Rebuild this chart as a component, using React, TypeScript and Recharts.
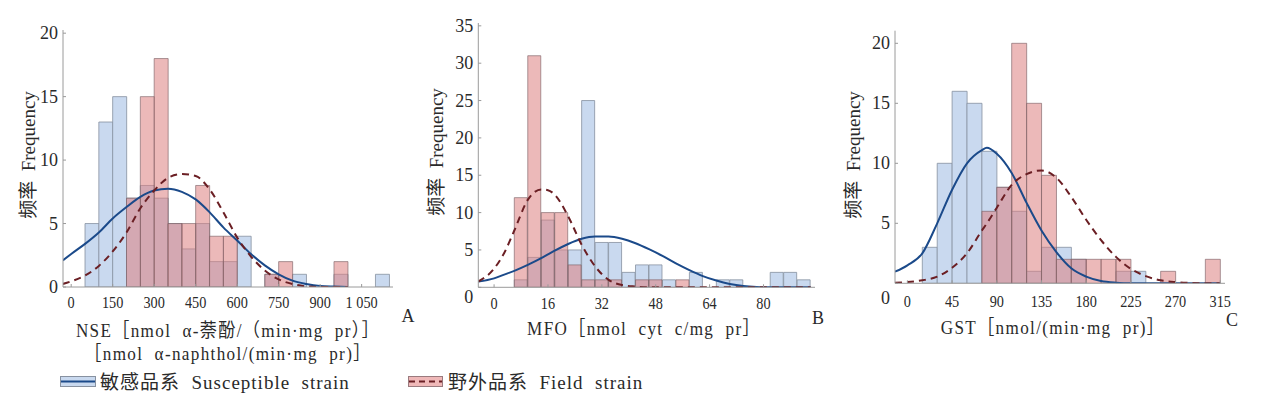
import React from "react";
import { ComposedChart, Bar, Line, XAxis, YAxis } from "recharts";

// A: NSE, bins of 50
const binsA = [50, 100, 150, 200, 250, 300, 350, 400, 450, 500, 550, 600, 650, 700, 750, 800, 850, 900, 950, 1000, 1050, 1100];
const susA = [5, 13, 15, 7, 8, 7, 5, 3, 5, 2, 2, 4, 0, 1, 0, 1, 0, 0, 1, 0, 0, 1];
const fieldA = [0, 0, 0, 7, 15, 18, 5, 5, 8, 4, 4, 0, 0, 1, 2, 0, 0, 0, 2, 0, 0, 0];
const curveXA = [-30, 0, 50, 100, 150, 200, 250, 300, 350, 400, 450, 500, 550, 600, 650, 700, 750, 800, 850, 900, 950, 1000];
const susCurveA = [2.1, 2.6, 3.4, 4.3, 5.4, 6.3, 7.1, 7.6, 7.75, 7.5, 6.9, 5.9, 4.7, 3.66, 2.6, 1.7, 1.0, 0.5, 0.24, 0.08, 0.03, 0];
const fieldCurveA = [0.24, 0.45, 0.9, 1.66, 2.8, 4.3, 6.2, 7.6, 8.6, 8.9, 8.75, 7.7, 5.9, 3.9, 2.4, 1.3, 0.6, 0.24, 0.05, 0, 0, 0];
const xTicksA = [0, 150, 300, 450, 600, 750, 900, 1050];
const xTickLabelsA = ["0", "150", "300", "450", "600", "750", "900", "1 050"];
const yTicksA = [0, 5, 10, 15, 20];

// B: MFO, bins of 4
const binsB = [6, 10, 14, 18, 22, 26, 30, 34, 38, 42, 46, 50, 54, 58, 62, 66, 70, 74, 78, 82, 86, 90];
const susB = [1, 4, 9, 5, 5, 25, 6, 6, 2, 3, 3, 1, 0, 2, 0, 1, 1, 0, 0, 2, 2, 1];
const fieldB = [12, 31, 10, 10, 3, 1, 1, 1, 0, 1, 1, 0, 1, 0, 0, 0, 0, 0, 0, 0, 0, 0];
const curveXB = [-4.7, 0, 3, 6, 10, 14, 16, 18, 22, 26, 30, 34, 38, 42, 46, 50, 54, 58, 62, 66, 70, 74, 78, 82, 86, 90, 94];
const susCurveB = [0.76, 1.2, 1.7, 2.2, 3.0, 3.9, 4.4, 4.9, 5.8, 6.5, 6.8, 6.8, 6.5, 5.9, 5.1, 4.2, 3.2, 2.3, 1.5, 0.9, 0.45, 0.18, 0.05, 0, 0, 0, 0];
const fieldCurveB = [0.76, 2.5, 4.6, 7.6, 11.7, 13.1, 13.0, 12.4, 9.5, 5.7, 2.8, 1.0, 0.3, 0.1, 0, 0, 0, 0, 0, 0, 0, 0, 0, 0, 0, 0, 0];
const xTicksB = [0, 16, 32, 48, 64, 80];
const xTickLabelsB = ["0", "16", "32", "48", "64", "80"];
const yTicksB = [0, 5, 10, 15, 20, 25, 30, 35];

// C: GST, bins of 15
const binsC = [15, 30, 45, 60, 75, 90, 105, 120, 135, 150, 165, 180, 195, 210, 225, 240, 255, 270, 285, 300];
const susC = [3, 10, 16, 15, 11, 8, 6, 1, 3, 3, 2, 0, 0, 1, 1, 0, 0, 0, 0, 0];
const fieldC = [0, 0, 0, 0, 6, 8, 20, 15, 9, 2, 2, 2, 2, 2, 0, 0, 1, 0, 0, 2];
const curveXC = [-12.5, 0, 15, 30, 45, 60, 75, 80, 90, 105, 120, 135, 150, 165, 180, 195, 210, 225, 240, 255, 270, 285, 300, 315];
const susCurveC = [0.97, 1.5, 2.5, 5.0, 7.8, 10.0, 11.1, 11.3, 10.8, 9.2, 6.7, 4.4, 2.6, 1.25, 0.56, 0.19, 0.05, 0, 0, 0, 0, 0, 0, 0];
const fieldCurveC = [0.05, 0.1, 0.25, 0.55, 1.3, 2.5, 4.4, 5.0, 6.3, 8.2, 9.1, 9.4, 8.8, 7.2, 5.3, 3.6, 2.2, 1.2, 0.6, 0.25, 0.1, 0.03, 0, 0];
const xTicksC = [0, 45, 90, 135, 180, 225, 270, 315];
const xTickLabelsC = ["0", "45", "90", "135", "180", "225", "270", "315"];
const yTicksC = [0, 5, 10, 15, 20];

const FONT = '"Liberation Serif", "Times New Roman", "Noto Sans CJK SC", serif';
const INK = "#2a2a2a";
const AXIS = "#9a9a9a";
const Y_W = 40;

const BLUE_FILL = "#c9d9ef";
const RED_FILL = "#dc7f7f";
const BLUE_LINE = "#1b4a8a";
const RED_LINE = "#6b1f24";

function Panel(p: any) {
  const plotW = p.width - p.margin.left - p.margin.right - Y_W;
  const span = p.xDomain[1] - p.xDomain[0];
  const last = p.bins[p.bins.length - 1] + p.binWidth;
  const padL = ((p.bins[0] - p.xDomain[0]) / span) * plotW;
  const padR = ((p.xDomain[1] - last) / span) * plotW;

  const data = p.bins.map((b: number, i: number) => ({ bin: b, sus: p.sus[i], field: p.field[i] }));
  const susLine = p.curveX.map((x: number, i: number) => ({ x, y: p.susCurve[i] }));
  const fieldLine = p.curveX.map((x: number, i: number) => ({ x, y: p.fieldCurve[i] }));

  const xTick = (t: any) => {
    const k = p.xTicks.indexOf(t.payload.value);
    return (
      <text
        transform={`translate(${t.x},${t.y + p.xDrop}) scale(0.84,1)`}
        textAnchor="middle"
        dominantBaseline="central"
        fontSize={17}
        fontFamily={FONT}
        fill={INK}
      >
        {p.xLabels[k]}
      </text>
    );
  };

  const yTick = (t: any) => (
    <text
      x={t.x - 5}
      y={t.y + (t.payload.value === 0 ? p.zeroDrop : 0)}
      textAnchor="end"
      dominantBaseline="central"
      fontSize={18}
      fontFamily={FONT}
      fill={INK}
    >
      {t.payload.value}
    </text>
  );

  return (
    <div style={{ position: "absolute", left: p.left, top: 0 }}>
      <ComposedChart width={p.width} height={p.height} data={data} margin={p.margin} barCategoryGap={0} barGap={0}>
        <XAxis
          xAxisId="num"
          dataKey="x"
          type="number"
          domain={p.xDomain}
          allowDataOverflow
          ticks={p.xTicks}
          interval={0}
          height={30}
          axisLine={{ stroke: AXIS }}
          tickLine={{ stroke: AXIS }}
          tickSize={-3}
          tickMargin={3}
          tick={xTick}
        />
        <XAxis xAxisId="sb" dataKey="bin" type="category" hide height={0} padding={{ left: padL, right: padR }} />
        <XAxis xAxisId="fb" dataKey="bin" type="category" hide height={0} padding={{ left: padL, right: padR }} />
        <YAxis
          type="number"
          domain={p.yDomain}
          allowDataOverflow
          ticks={p.yTicks}
          interval={0}
          width={Y_W}
          axisLine={{ stroke: AXIS }}
          tickLine={{ stroke: AXIS }}
          tickSize={-3}
          tickMargin={3}
          tick={yTick}
        />
        <Bar xAxisId="sb" dataKey="sus" fill={BLUE_FILL} stroke="#8791a0" strokeWidth={0.8} isAnimationActive={false} />
        <Bar
          xAxisId="fb"
          dataKey="field"
          fill={RED_FILL}
          fillOpacity={0.55}
          stroke="#7d6266"
          strokeOpacity={0.8}
          strokeWidth={0.8}
          isAnimationActive={false}
        />
        <Line
          xAxisId="num"
          data={susLine}
          dataKey="y"
          type="monotone"
          dot={false}
          stroke={BLUE_LINE}
          strokeWidth={2}
          isAnimationActive={false}
        />
        <Line
          xAxisId="num"
          data={fieldLine}
          dataKey="y"
          type="monotone"
          dot={false}
          stroke={RED_LINE}
          strokeWidth={2}
          strokeDasharray="7 5"
          isAnimationActive={false}
        />
      </ComposedChart>
    </div>
  );
}

const txt = (left: number, top: number, size: number, content: string, extra = "", spacing = 0) => (
  <div
    style={{
      position: "absolute",
      left,
      top,
      transform: `translate(-50%,-50%) ${extra}`,
      whiteSpace: "pre",
      fontSize: size,
      fontFamily: FONT,
      color: INK,
      lineHeight: 1,
      letterSpacing: spacing,
    }}
  >
    {content}
  </div>
);

const legendText = (left: number, content: string) => (
  <div
    style={{
      position: "absolute",
      left,
      top: 372,
      whiteSpace: "pre",
      fontSize: 19,
      fontFamily: FONT,
      color: INK,
      lineHeight: "22px",
      letterSpacing: 1,
    }}
  >
    {content}
  </div>
);

export default function App() {
  return (
    <div style={{ position: "absolute", left: 0, top: 0, width: 1269, height: 402, background: "#fff", overflow: "hidden" }}>
      <Panel
        left={0}
        width={400}
        height={320}
        margin={{ top: 30, right: 7, bottom: 3, left: 23 }}
        bins={binsA}
        binWidth={50}
        sus={susA}
        field={fieldA}
        curveX={curveXA}
        susCurve={susCurveA}
        fieldCurve={fieldCurveA}
        xDomain={[-29.6, 1163.4]}
        yDomain={[0, 20.25]}
        xTicks={xTicksA}
        xLabels={xTickLabelsA}
        yTicks={yTicksA}
        xDrop={15}
        zeroDrop={0}
      />
      <Panel
        left={420}
        width={400}
        height={320}
        margin={{ top: 23, right: 5, bottom: 2.7, left: 18.3 }}
        bins={binsB}
        binWidth={4}
        sus={susB}
        field={fieldB}
        curveX={curveXB}
        susCurve={susCurveB}
        fieldCurve={fieldCurveB}
        xDomain={[-4.69, 95.3]}
        yDomain={[0, 35.38]}
        xTicks={xTicksB}
        xLabels={xTickLabelsB}
        yTicks={yTicksB}
        xDrop={16}
        zeroDrop={10}
      />
      <Panel
        left={840}
        width={400}
        height={320}
        margin={{ top: 30.7, right: 15, bottom: 6.7, left: 15 }}
        bins={binsC}
        binWidth={15}
        sus={susC}
        field={fieldC}
        curveX={curveXC}
        susCurve={susCurveC}
        fieldCurve={fieldCurveC}
        xDomain={[-12.5, 319.8]}
        yDomain={[0, 21.05]}
        xTicks={xTicksC}
        xLabels={xTickLabelsC}
        yTicks={yTicksC}
        xDrop={18}
        zeroDrop={15}
      />

      {txt(28, 155, 19, "频率  Frequency", "rotate(-90deg)")}
      {txt(436, 152, 19, "频率  Frequency", "rotate(-90deg)")}
      {txt(853, 155, 19, "频率  Frequency", "rotate(-90deg)")}

      {txt(228, 330, 19, "NSE［nmol  α-萘酚/（min·mg  pr）］", "scaleX(0.9)", 1.5)}
      {txt(228, 353, 19, "［nmol  α-naphthol/(min·mg  pr)］", "scaleX(0.9)", 1.5)}
      {txt(644, 328, 19, "MFO［nmol  cyt  c/mg  pr］", "scaleX(0.9)", 1.5)}
      {txt(1053, 327, 19, "GST［nmol/(min·mg  pr)］", "scaleX(0.9)", 1.5)}

      {txt(408, 316, 18, "A")}
      {txt(818, 318, 18, "B")}
      {txt(1232, 320, 18, "C")}

      <svg style={{ position: "absolute", left: 60, top: 376 }} width={36} height={11}>
        <rect x={0.5} y={0.5} width={35} height={10} fill={BLUE_FILL} stroke="#8791a0" />
        <line x1={1} x2={35} y1={5.5} y2={5.5} stroke={BLUE_LINE} strokeWidth={2} />
      </svg>
      {legendText(100, "敏感品系  Susceptible  strain")}
      <svg style={{ position: "absolute", left: 408, top: 376 }} width={35} height={11}>
        <rect x={0.5} y={0.5} width={34} height={10} fill="#efb8b8" stroke="#9a7a7e" />
        <line x1={1} x2={34} y1={5.5} y2={5.5} stroke={RED_LINE} strokeWidth={2} strokeDasharray="6 4" />
      </svg>
      {legendText(448, "野外品系  Field  strain")}
    </div>
  );
}
